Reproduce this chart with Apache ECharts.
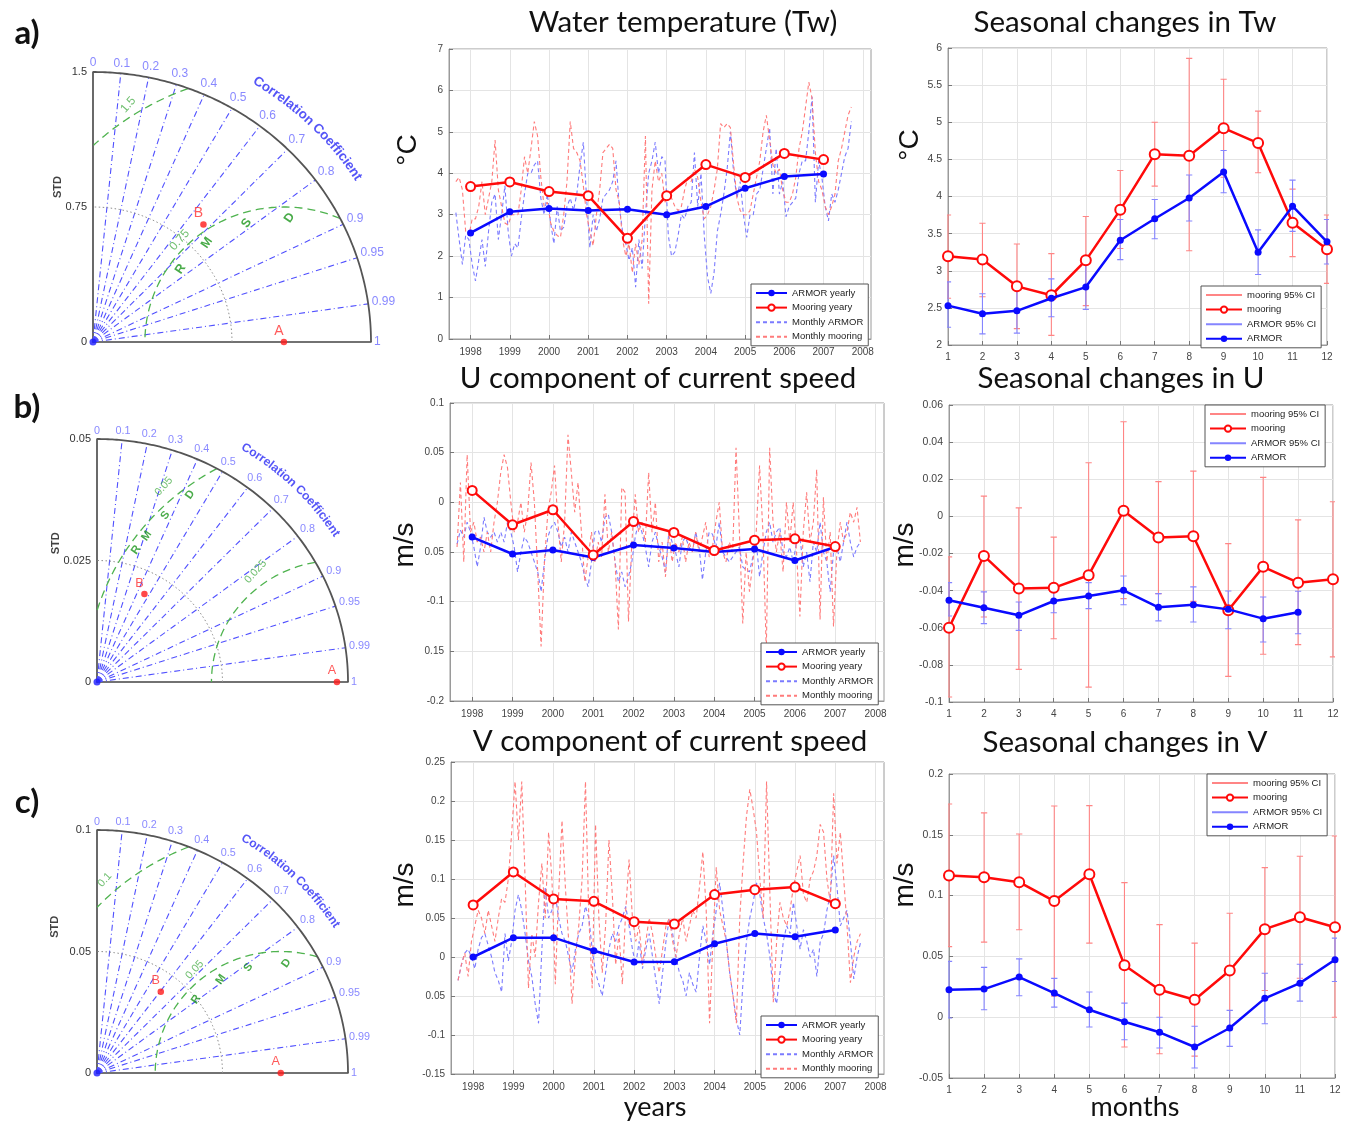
<!DOCTYPE html>
<html><head><meta charset="utf-8">
<script src="https://cdn.jsdelivr.net/npm/echarts@6/dist/echarts.min.js"></script>
<style>html,body{margin:0;padding:0;background:#fff}#c{width:1349px;height:1122px}</style>
</head><body><div id="c"></div>
<script>
// ================= DATA =================
const years = [1998,1999,2000,2001,2002,2003,2004,2005,2006,2007];
const tickYears = [1998,1999,2000,2001,2002,2003,2004,2005,2006,2007,2008];
const months = [1,2,3,4,5,6,7,8,9,10,11,12];
const monthlyStart = 1997.625; // first monthly sample (Aug 1997)

const armorYearlyTw   = [2.56,3.07,3.15,3.10,3.13,3.00,3.20,3.64,3.92,3.98];
const mooringYearlyTw = [3.68,3.79,3.56,3.46,2.43,3.46,4.21,3.90,4.48,4.33];
const armorYearlyU    = [-0.035,-0.052,-0.048,-0.0555,-0.043,-0.046,-0.050,-0.047,-0.0585,-0.045];
const mooringYearlyU  = [0.012,-0.0226,-0.0075,-0.053,-0.0193,-0.0303,-0.0485,-0.0381,-0.0367,-0.0445];
const armorYearlyV    = [0.0,0.0248,0.0248,0.008,-0.0064,-0.006,0.017,0.030,0.026,0.0346];
const mooringYearlyV  = [0.0667,0.109,0.0744,0.0714,0.0453,0.0423,0.080,0.0863,0.0897,0.0684];

const armorMonthlyTw = [3.05,2.4,1.8,2.5,2.4,1.8,1.4,1.9,2.4,1.75,
 2.6,3.3,3.5,2.4,3.0,3.7,2.6,2.0,2.3,2.2,
 2.9,3.5,4.0,4.0,4.2,4.3,3.4,3.0,3.5,2.8,
 2.3,3.2,2.6,2.7,3.2,3.4,3.1,3.5,4.2,4.75,
 3.4,2.2,3.0,2.6,2.9,3.4,3.5,3.6,3.8,4.3,
 3.2,2.6,2.3,1.9,2.2,1.25,2.4,1.7,3.0,4.0,
 4.3,4.75,4.0,4.4,4.3,2.5,2.0,2.1,2.5,3.0,
 2.9,3.2,3.3,4.5,3.2,4.0,2.5,1.5,1.1,1.6,
 2.6,3.0,3.5,4.1,5.0,4.0,3.4,3.8,3.0,2.45,
 3.0,3.0,3.5,3.6,4.1,4.6,5.1,3.5,4.6,3.5,
 3.8,2.95,3.2,3.3,3.4,4.0,4.3,4.3,5.0,5.85,
 3.3,4.3,3.9,3.2,2.85,3.5,3.3,3.6,4.0,4.4,
 4.6,5.25];
const mooringMonthlyTw = [3.8,3.9,3.6,2.6,2.5,2.9,2.9,3.2,3.8,3.0,
 3.4,3.8,4.8,3.6,3.2,2.8,2.75,3.0,3.0,3.0,
 3.6,4.4,4.0,4.6,5.25,4.9,3.9,3.2,3.3,2.8,
 2.6,2.5,2.45,3.0,3.8,5.25,4.6,4.5,4.3,3.7,
 3.0,2.6,2.25,3.0,3.6,4.5,4.6,4.7,4.6,3.6,
 3.3,2.4,2.0,2.3,1.6,2.3,1.8,2.4,4.9,0.85,
 3.6,4.3,3.8,4.0,3.3,3.5,3.4,3.2,3.1,3.2,
 3.6,3.9,3.8,4.1,3.9,3.3,2.9,3.0,3.2,3.6,
 4.1,5.2,5.1,5.2,5.1,4.2,3.4,3.1,3.0,3.0,
 3.1,3.5,3.9,4.3,5.0,5.4,4.8,4.2,4.0,4.1,
 3.6,3.3,3.3,3.5,3.9,4.6,5.0,5.6,6.2,5.8,
 4.5,3.8,3.6,3.2,3.0,3.2,3.5,4.3,4.6,5.0,
 5.4,5.6];
const armorMonthlyU = [-0.042,-0.028,-0.035,-0.02,-0.03,-0.045,-0.065,-0.045,-0.015,-0.03,
 -0.035,-0.03,-0.04,-0.03,-0.04,-0.02,-0.03,-0.045,-0.07,-0.05,
 -0.035,-0.04,-0.05,-0.06,-0.07,-0.09,-0.06,-0.035,-0.025,-0.02,
 -0.03,-0.045,-0.035,-0.05,-0.03,-0.04,-0.05,-0.06,-0.075,-0.085,
 -0.06,-0.03,-0.028,-0.04,-0.015,-0.012,-0.03,-0.06,-0.08,-0.07,
 -0.085,-0.075,-0.06,-0.035,-0.02,-0.03,-0.045,-0.065,-0.04,-0.03,
 -0.045,-0.055,-0.07,-0.03,-0.04,-0.05,-0.065,-0.04,-0.035,-0.045,
 -0.05,-0.03,-0.045,-0.078,-0.05,-0.03,-0.032,-0.045,-0.02,-0.05,
 -0.055,-0.06,-0.055,-0.05,-0.045,-0.065,-0.068,-0.07,-0.055,-0.04,
 -0.075,-0.05,-0.03,-0.02,-0.04,-0.03,-0.025,-0.05,-0.055,-0.045,
 -0.06,-0.04,-0.035,-0.065,-0.05,-0.08,-0.04,-0.05,-0.02,-0.05,
 -0.06,-0.09,-0.05,-0.045,-0.06,-0.04,-0.02,-0.04,-0.055,-0.045,
 -0.04];
const mooringMonthlyU = [-0.045,0.02,-0.06,0.048,-0.03,-0.02,-0.04,-0.035,-0.05,-0.03,
 -0.05,-0.02,0.0,0.03,0.048,0.035,0.0,-0.03,-0.02,0.0,
 -0.03,-0.01,0.04,0.0,-0.07,-0.145,-0.06,-0.01,0.01,0.037,
 -0.02,-0.06,-0.02,0.068,0.03,-0.01,0.02,-0.03,-0.08,-0.055,
 -0.03,-0.06,-0.04,-0.055,0.008,-0.05,-0.03,-0.06,-0.128,0.015,
 0.01,-0.12,-0.04,0.008,-0.03,-0.02,-0.04,0.03,-0.03,0.0,
 -0.06,-0.04,-0.075,-0.03,-0.06,-0.04,-0.05,-0.035,-0.06,-0.04,
 -0.05,-0.03,-0.05,-0.035,-0.02,-0.055,-0.045,-0.02,0.0,-0.05,
 -0.06,-0.04,-0.05,0.055,-0.03,-0.122,-0.05,-0.09,-0.06,-0.03,
 0.037,-0.03,-0.15,0.055,-0.02,-0.05,-0.03,-0.07,0.0,-0.04,
 0.0,-0.05,-0.115,-0.03,0.01,-0.04,-0.02,0.033,-0.118,0.005,
 -0.06,-0.03,-0.125,-0.05,-0.02,-0.04,-0.03,-0.01,-0.02,-0.005,
 -0.04];
const armorMonthlyV = [-0.03,-0.01,0.005,0.01,0.0,-0.015,0.01,0.025,0.03,0.015,
 0.0,-0.02,-0.03,-0.045,0.03,-0.005,0.02,0.06,0.08,0.06,
 0.03,-0.005,-0.025,-0.06,-0.085,0.01,0.09,0.05,0.06,0.08,
 0.05,0.03,0.02,0.0,-0.02,0.01,0.03,0.04,0.065,0.05,
 0.01,-0.02,-0.035,-0.05,-0.02,0.01,0.03,0.02,0.04,0.05,
 0.065,0.04,0.01,-0.01,0.02,-0.015,0.01,0.03,0.0,-0.03,
 -0.06,-0.02,0.02,0.05,0.03,0.0,-0.02,-0.03,-0.05,-0.02,
 -0.035,-0.045,0.0,0.04,0.02,-0.01,0.03,0.06,0.095,0.06,
 0.02,-0.02,-0.05,-0.08,-0.1,-0.03,0.02,0.05,0.07,0.095,
 0.08,0.05,0.03,0.0,-0.045,-0.06,-0.02,0.02,0.04,0.03,
 0.07,0.04,0.01,0.035,0.02,0.0,0.01,-0.025,0.02,0.03,
 0.06,0.08,0.13,0.09,0.04,0.05,0.06,0.02,-0.028,0.0,
 0.018];
const mooringMonthlyV = [-0.03,-0.01,0.005,-0.025,0.02,0.04,0.06,0.05,0.03,0.06,
 0.04,0.02,0.05,0.075,0.07,0.1,0.16,0.225,0.15,0.225,
 0.1,-0.04,0.03,0.0,0.07,0.12,0.05,0.16,0.1,-0.035,
 0.08,0.175,0.09,0.02,-0.06,0.0,0.04,0.1,0.225,0.05,
 -0.04,0.17,0.05,-0.02,0.04,0.15,0.08,-0.01,0.03,-0.035,
 0.06,0.125,0.05,0.02,0.04,-0.01,0.02,0.05,0.03,0.0,
 -0.02,0.01,0.04,0.05,0.02,0.0,0.03,0.05,0.02,0.04,
 0.06,0.05,0.09,0.135,0.06,-0.085,0.02,0.115,0.06,0.04,
 0.02,-0.02,-0.05,-0.085,0.05,0.12,0.18,0.215,0.19,0.16,
 0.1,0.05,0.225,0.08,-0.058,0.02,0.07,0.05,0.04,0.06,
 0.09,0.11,0.13,0.08,0.07,0.1,0.11,0.13,0.17,0.16,
 0.1,0.07,0.21,0.12,0.16,0.1,0.04,-0.033,0.0,0.02,
 0.03];

// seasonal cycles (mean and 95% CI bounds)
const mooringSeasTw   = [3.195,3.15,2.79,2.67,3.14,3.82,4.57,4.55,4.92,4.72,3.645,3.29];
const mooringSeasTwLo = [2.63,2.65,2.22,2.13,2.53,3.30,4.14,3.27,4.26,4.32,3.19,2.83];
const mooringSeasTwHi = [3.75,3.64,3.36,3.23,3.73,4.35,5.00,5.86,5.58,5.15,4.10,3.75];
const armorSeasTw     = [2.53,2.42,2.46,2.63,2.78,3.41,3.70,3.98,4.33,3.25,3.87,3.39];
const armorSeasTwLo   = [2.24,2.15,2.16,2.38,2.48,3.15,3.43,3.67,4.05,2.95,3.53,3.09];
const armorSeasTwHi   = [2.85,2.69,2.76,2.89,3.08,3.69,3.96,4.29,4.62,3.55,4.22,3.69];

const mooringSeasU   = [-0.060,-0.0213,-0.0389,-0.0385,-0.0317,0.003,-0.0114,-0.0107,-0.0506,-0.0272,-0.0357,-0.0339];
const mooringSeasULo = [-0.0973,-0.0542,-0.0824,-0.0659,-0.092,-0.0443,-0.0416,-0.0458,-0.0862,-0.0743,-0.0691,-0.0757];
const mooringSeasUHi = [-0.0218,0.0109,0.0046,-0.0112,0.0289,0.051,0.0187,0.0244,-0.0147,0.021,-0.0019,0.0079];
const armorSeasU     = [-0.0452,-0.0492,-0.0533,-0.0456,-0.0429,-0.0398,-0.049,-0.0476,-0.0501,-0.0551,-0.0517,null];
const armorSeasULo   = [-0.0537,-0.0578,-0.0614,-0.0519,-0.0497,-0.0476,-0.0563,-0.0569,-0.0605,-0.0677,-0.0632,null];
const armorSeasUHi   = [-0.0357,-0.0407,-0.0461,-0.0389,-0.0357,-0.0321,-0.0416,-0.038,-0.0402,-0.0434,-0.0403,null];

const mooringSeasV   = [0.1165,0.115,0.111,0.0955,0.1176,0.0428,0.0226,0.0143,0.0384,0.0724,0.0822,0.074];
const mooringSeasVLo = [0.058,0.0617,0.0719,0.0173,0.0609,-0.0245,-0.030,-0.032,-0.009,0.022,0.032,0.0];
const mooringSeasVHi = [0.1753,0.168,0.1507,0.1737,0.174,0.1107,0.0761,0.0609,0.0855,0.123,0.1323,0.149];
const armorSeasV     = [0.0226,0.0231,0.033,0.0198,0.0061,-0.0037,-0.0124,-0.0245,-0.0089,0.0155,0.028,0.0472];
const armorSeasVLo   = [-0.0007,0.0061,0.0176,0.0083,-0.0081,-0.0185,-0.0253,-0.0418,-0.024,-0.0054,0.0132,0.0294];
const armorSeasVHi   = [0.0459,0.041,0.048,0.0319,0.0207,0.0116,0.0,-0.0075,0.0056,0.0362,0.0436,0.065];

// tick labels (as printed in the figure)
const twTickLabels     = ['0','1','2','3','4','5','6','7'];
const uTickLabels      = ['-0.2','0.15','-0.1','0.05','0','0.05','0.1'];
const vTickLabels      = ['-0.15','-0.1','0.05','0','0.05','0.1','0.15','0.2','0.25'];
const twSeasTickLabels = ['2','2.5','3','3.5','4','4.5','5','5.5','6'];
const uSeasTickLabels  = ['-0.1','-0.08','-0.06','-0.04','-0.02','0','0.02','0.04','0.06'];
const vSeasTickLabels  = ['-0.05','0','0.05','0.1','0.15','0.2'];

// Taylor diagrams
const taylorMax       = [1.5, 0.05, 0.1];
const taylorRefStd    = [1.03, 0.0478, 0.0732];   // point A
const taylorModelStd  = [0.884, 0.0204, 0.0420];  // point B
const taylorModelCorr = [0.674, 0.463, 0.605];
const taylorRmsArcs   = [[0.75, 1.5], [0.025, 0.05], [0.05, 0.1]];
const taylorStdTicks  = [['0','0.75','1.5'], ['0','0.025','0.05'], ['0','0.05','0.1']];
const corrTicks       = [0,0.1,0.2,0.3,0.4,0.5,0.6,0.7,0.8,0.9,0.95,0.99,1];
const corrTickLabels  = ['0','0.1','0.2','0.3','0.4','0.5','0.6','0.7','0.8','0.9','0.95','0.99','1'];
const rmsdLetters     = ['R','M','S','D'];
const rmsdLetterRadius = [0.69, 0.0484, 0.0453];
const rmsdLetterAngles = [[144,127,107,87.5],[145.8,141.6,134.9,127.2],[138.1,121.7,106.5,87.2]];
const rmsArcLabels = [[['0.75',0.798,134.8],['1.5',1.563,122.5]],
                      [['0.05',0.053,130.6],['0.025',0.0279,125.5]],
                      [['0.05',0.0546,128.9],['0.1',0.106,131.4]]];

const titles = ['Water temperature (Tw)','Seasonal changes in Tw','U component of current speed',
                'Seasonal changes in U','V component of current speed','Seasonal changes in V'];
const panelLetters = ['a)','b)','c)'];

// ================= LAYOUT =================
const L = {
  taylor: [{left:93,top:72,width:278,height:270},{left:97,top:439,width:251,height:243},{left:97,top:830,width:251,height:243}],
  ts:     [{left:449,top:49,width:422,height:290},{left:450,top:403,width:434,height:298},{left:451,top:762,width:433,height:312}],
  seas:   [{left:948,top:48,width:379,height:297},{left:949,top:405,width:384,height:297},{left:949,top:774,width:386,height:304}],
  tsLegend:   [[751,284],[761,643],[761,1016]],
  seasLegend: [[1201,286],[1205,405],[1207,774]],
  titlePos: [[683,22],[1125,22],[658,378],[1121,378],[670,741],[1125,742]],
  letterPos: [[27,33],[27,407],[27,802]],
  stdLabelOffset: [-35,-41,-42],
  stdLabelFrac: [0.574,0.571,0.602]
};
const tsXMin = 1997.45, tsXMax = 2008.21;
const rad = Math.PI/180;
const GAP = [null, null];
const FONT = '"Liberation Sans", Arial, sans-serif';

const mctx = document.createElement('canvas').getContext('2d');
function textW(t, font){ mctx.font = font; return mctx.measureText(t).width; }
function lookup(labels, min, step){ return v => { const k = Math.round((v-min)/step); return labels[k] !== undefined ? labels[k] : ''; }; }

const grids = [], xAxes = [], yAxes = [], series = [], legends = [], graphics = [];

// ---------- Taylor diagrams ----------
function rmsArc(A, r, M){
  const pts = [];
  for (let d = 0; d <= 180; d += 0.2) {
    const x = A + r*Math.cos(d*rad), y = r*Math.sin(d*rad);
    const inside = x >= 0 && y >= 0 && (x*x + y*y) <= M*M*1.0005;
    if (inside) pts.push([x, y]);
    else if (pts.length && pts[pts.length-1] !== GAP) pts.push(GAP);
  }
  return pts;
}
function buildTaylor(k){
  const gi = grids.length, g = L.taylor[k], M = taylorMax[k], A = taylorRefStd[k];
  const sc = g.width/278;
  grids.push({left:g.left, top:g.top, width:g.width, height:g.height, outerBoundsMode:'none', containLabel:false});
  xAxes.push({gridIndex:gi, type:'value', min:0, max:M, axisLine:{show:true, onZero:false, lineStyle:{color:'#444', width:1.6}},
    axisTick:{show:false}, axisLabel:{show:false}, splitLine:{show:false}});
  yAxes.push({gridIndex:gi, type:'value', min:0, max:M, interval:M/2, axisLine:{show:true, onZero:false, lineStyle:{color:'#444', width:1.6}},
    axisTick:{show:false}, axisLabel:{show:true, formatter:lookup(taylorStdTicks[k],0,M/2), color:'#333', fontSize:11, margin:6, fontFamily:FONT, showMinLabel:true, showMaxLabel:true},
    splitLine:{show:false}});
  const base = {xAxisIndex:gi, yAxisIndex:gi, silent:true, clip:false, animation:false};
  const line = (data, ls, z) => Object.assign({type:'line', data, symbol:'none', showSymbol:false, connectNulls:false, lineStyle:ls, z:z||2}, base);
  // radial correlation lines
  const radial = [];
  corrTicks.forEach(c => { if (c > 0 && c < 1) radial.push([0,0],[M*c, M*Math.sqrt(1-c*c)], GAP); });
  series.push(line(radial, {color:'#5050ff', width:1.1, type:[6,3,1,3]}));
  // dotted std arc
  const half = []; for (let d = 0; d <= 90; d += 1) half.push([M/2*Math.cos(d*rad), M/2*Math.sin(d*rad)]);
  series.push(line(half, {color:'#8c8c8c', width:1, type:[1.5,2.5]}));
  // RMSD arcs
  taylorRmsArcs[k].forEach(r => series.push(line(rmsArc(A, r, M), {color:'#4fb34f', width:1.3, type:[8,5]})));
  // outer arc
  const outer = []; for (let d = 0; d <= 90; d += 0.5) outer.push([M*Math.cos(d*rad), M*Math.sin(d*rad)]);
  series.push(line(outer, {color:'#555', width:1.8}, 3));

  const lab = (items, z) => Object.assign({type:'scatter', symbolSize:0, data:items, z:z||5}, base);
  // correlation tick labels
  const cf = Math.round(12*sc*10)/10;
  const cfont = cf + 'px ' + FONT;
  series.push(lab(corrTicks.map((c,i) => {
    const th = Math.acos(c), w = textW(corrTickLabels[i], cfont), h = cf;
    const d = 3 + (w/2)*Math.abs(Math.cos(th)) + (h/2)*Math.abs(Math.sin(th));
    return {value:[M*c, M*Math.sin(th)], label:{show:true, position:'inside', formatter:corrTickLabels[i],
      offset:[d*Math.cos(th), -d*Math.sin(th)], color:'#6a6aff', fontSize:cf, fontFamily:FONT}};
  })));
  // "Correlation Coefficient" along the arc
  const ccText = 'Correlation Coefficient';
  const ccf = Math.round(13.5*sc*10)/10;
  const ccfont = 'bold ' + ccf + 'px ' + FONT;
  const chars = ccText.split('');
  const widths = chars.map(ch => textW(ch, ccfont));
  const total = widths.reduce((a,b)=>a+b,0);
  const Rpx = 1.13*(g.width + g.height)/2;
  const start = 45.7*rad + total/Rpx/2;
  let cum = 0;
  const ccItems = [];
  chars.forEach((ch, i) => {
    const th = start - (cum + widths[i]/2)/Rpx; cum += widths[i];
    if (ch === ' ') return;
    ccItems.push({value:[1.13*M*Math.cos(th), 1.13*M*Math.sin(th)], label:{show:true, position:'inside', formatter:ch,
      rotate: th/rad - 90, color:'#2a2af5', fontSize:ccf, fontWeight:'bold', fontFamily:FONT}});
  });
  series.push(lab(ccItems));
  // RMSD labels
  const rItems = rmsdLetters.map((t,i) => {
    const ph = rmsdLetterAngles[k][i]*rad, r = rmsdLetterRadius[k];
    return {value:[A + r*Math.cos(ph), r*Math.sin(ph)], label:{show:true, position:'inside', formatter:t, rotate:55,
      color:'#1c961c', fontSize:12.5*sc, fontWeight:'bold', fontFamily:FONT}};
  });
  rmsArcLabels[k].forEach(([t, r, a]) => {
    rItems.push({value:[A + r*Math.cos(a*rad), r*Math.sin(a*rad)], label:{show:true, position:'inside', formatter:t, rotate:48,
      color:'#4caf4c', fontSize:12*sc, fontFamily:FONT}});
  });
  series.push(lab(rItems));
  // STD axis label (offset is in the rotated label frame)
  series.push(lab([{value:[0, L.stdLabelFrac[k]*M], label:{show:true, position:'inside', formatter:'STD', rotate:90,
    offset:[0, L.stdLabelOffset[k]], color:'#111', fontSize:11, fontWeight:'bold', fontFamily:FONT}}]));
  // origin blob
  series.push(Object.assign({type:'scatter', symbol:'circle', symbolSize:7, itemStyle:{color:'#1a1aff'}, data:[[0,0]], z:4}, base));
  // points A and B
  const Bx = taylorModelStd[k]*taylorModelCorr[k], By = taylorModelStd[k]*Math.sqrt(1 - taylorModelCorr[k]**2);
  series.push(Object.assign({type:'scatter', symbol:'circle', symbolSize:6.5, itemStyle:{color:'#ff1a1a'}, z:6,
    data:[[A,0],[Bx,By]].map((v,i) => ({value:v, label:{show:true, position:'inside', formatter:i ? 'B' : 'A',
      offset:[-5,-11], color:'#ff3030', fontSize:14*sc, fontFamily:FONT}}))}, base));
}

// ---------- time-series panels ----------
const axisCol = '#9a9a9a', gridCol = '#e4e4e4', labCol = '#444';
function tsPanel(p, yMin, yMax, yStep, yLabels, armorY, moorY, armorM, moorM){
  const gi = grids.length, g = L.ts[p];
  grids.push({left:g.left, top:g.top, width:g.width, height:g.height, show:true, borderColor:axisCol, borderWidth:1, outerBoundsMode:'none', containLabel:false});
  xAxes.push({gridIndex:gi, type:'value', min:tsXMin, max:tsXMax,
    axisLine:{show:true, onZero:false, lineStyle:{color:axisCol}},
    axisTick:{show:true, inside:true, length:4, customValues:tickYears, lineStyle:{color:'#777'}},
    axisLabel:{customValues:tickYears, formatter:v => String(Math.round(v)), color:labCol, fontSize:10, margin:8, fontFamily:FONT, hideOverlap:false},
    splitLine:{show:true, lineStyle:{color:gridCol}}});
  yAxes.push({gridIndex:gi, type:'value', min:yMin, max:yMax, interval:yStep,
    axisLine:{show:true, onZero:false, lineStyle:{color:axisCol}},
    axisTick:{show:true, inside:true, length:4, lineStyle:{color:'#777'}},
    axisLabel:{formatter:lookup(yLabels, yMin, yStep), color:labCol, fontSize:10, margin:6, fontFamily:FONT, showMinLabel:true, showMaxLabel:true, hideOverlap:false},
    splitLine:{show:true, lineStyle:{color:gridCol}}});
  const base = {xAxisIndex:gi, yAxisIndex:gi, animation:false, silent:true};
  const mx = i => monthlyStart + i/12;
  series.push(Object.assign({type:'line', name:'Monthly ARMOR', data:armorM.map((v,i)=>[mx(i), v]), symbol:'none',
    lineStyle:{color:'#7b7bff', width:1.1, type:[4,3]}, itemStyle:{color:'#7b7bff'}, z:2}, base));
  series.push(Object.assign({type:'line', name:'Monthly mooring', data:moorM.map((v,i)=>[mx(i), v]), symbol:'none',
    lineStyle:{color:'#ff7b7b', width:1.1, type:[4,3]}, itemStyle:{color:'#ff7b7b'}, z:2}, base));
  series.push(Object.assign({type:'line', name:'ARMOR yearly', data:years.map((y,i)=>[y, armorY[i]]), symbol:'circle', symbolSize:7,
    showSymbol:true, lineStyle:{color:'#0a0aff', width:2.5}, itemStyle:{color:'#0a0aff'}, z:3}, base));
  series.push(Object.assign({type:'line', name:'Mooring yeary', data:years.map((y,i)=>[y, moorY[i]]), symbol:'emptyCircle', symbolSize:9,
    showSymbol:true, lineStyle:{color:'#ff0a0a', width:2.5}, itemStyle:{color:'#ff0a0a', borderColor:'#ff0a0a', borderWidth:1.8}, z:4}, base));
  legends.push(mkLegend(['ARMOR yearly','Mooring yeary','Monthly ARMOR','Monthly mooring'], [false,false,true,true], L.tsLegend[p], 31));
}

function mkLegend(names, lineOnly, pos, iw){
  return {data:names.map((n,i) => lineOnly[i] ? {name:n, itemStyle:{opacity:0}} : {name:n}),
    orient:'vertical', left:pos[0], top:pos[1], itemWidth:iw, itemHeight:8, itemGap:4.6,
    padding:[4,5,4,4], borderColor:'#555', borderWidth:1, backgroundColor:'#fff', selectedMode:false, z:10,
    textStyle:{fontSize:9.5, color:'#222', fontFamily:FONT}};
}

function errData(lo, hi, cap){
  const out = [];
  months.forEach((m,i) => {
    if (lo[i] == null) return;
    out.push([m, lo[i]], [m, hi[i]], GAP, [m-cap, lo[i]], [m+cap, lo[i]], GAP, [m-cap, hi[i]], [m+cap, hi[i]], GAP);
  });
  return out;
}
function seasPanel(p, yMin, yMax, yStep, yLabels, moor, moorLo, moorHi, armor, armorLo, armorHi){
  const gi = grids.length, g = L.seas[p];
  grids.push({left:g.left, top:g.top, width:g.width, height:g.height, show:true, borderColor:axisCol, borderWidth:1, outerBoundsMode:'none', containLabel:false});
  xAxes.push({gridIndex:gi, type:'value', min:1, max:12, interval:1,
    axisLine:{show:true, onZero:false, lineStyle:{color:axisCol}},
    axisTick:{show:true, inside:true, length:4, lineStyle:{color:'#777'}},
    axisLabel:{color:labCol, fontSize:10, margin:7, fontFamily:FONT, showMinLabel:true, showMaxLabel:true, hideOverlap:false},
    splitLine:{show:true, lineStyle:{color:gridCol}}});
  yAxes.push({gridIndex:gi, type:'value', min:yMin, max:yMax, interval:yStep,
    axisLine:{show:true, onZero:false, lineStyle:{color:axisCol}},
    axisTick:{show:true, inside:true, length:4, lineStyle:{color:'#777'}},
    axisLabel:{formatter:lookup(yLabels, yMin, yStep), color:labCol, fontSize:10.5, margin:6, fontFamily:FONT, showMinLabel:true, showMaxLabel:true, hideOverlap:false},
    splitLine:{show:true, lineStyle:{color:gridCol}}});
  const base = {xAxisIndex:gi, yAxisIndex:gi, animation:false, silent:true, connectNulls:false};
  series.push(Object.assign({type:'line', name:'mooring 95% CI', data:errData(moorLo, moorHi, 0.09), symbol:'none',
    lineStyle:{color:'#ff8585', width:1.1}, itemStyle:{color:'#ff8585'}, z:2}, base));
  series.push(Object.assign({type:'line', name:'ARMOR 95% CI', data:errData(armorLo, armorHi, 0.09), symbol:'none',
    lineStyle:{color:'#8585ff', width:1.1}, itemStyle:{color:'#8585ff'}, z:2}, base));
  series.push(Object.assign({type:'line', name:'mooring', data:months.map((m,i)=>[m, moor[i]]), symbol:'emptyCircle', symbolSize:10,
    showSymbol:true, lineStyle:{color:'#ff0a0a', width:2.5}, itemStyle:{color:'#ff0a0a', borderColor:'#ff0a0a', borderWidth:1.8}, z:3}, base));
  series.push(Object.assign({type:'line', name:'ARMOR', data:months.map((m,i)=>[m, armor[i]]), symbol:'circle', symbolSize:7,
    showSymbol:true, lineStyle:{color:'#0a0aff', width:2.5}, itemStyle:{color:'#0a0aff'}, z:4}, base));
  legends.push(mkLegend(['mooring 95% CI','mooring','ARMOR 95% CI','ARMOR'], [true,false,true,false], L.seasLegend[p], 36));
}

buildTaylor(0); buildTaylor(1); buildTaylor(2);
tsPanel(0, 0, 7, 1, twTickLabels, armorYearlyTw, mooringYearlyTw, armorMonthlyTw, mooringMonthlyTw);
tsPanel(1, -0.2, 0.1, 0.05, uTickLabels, armorYearlyU, mooringYearlyU, armorMonthlyU, mooringMonthlyU);
tsPanel(2, -0.15, 0.25, 0.05, vTickLabels, armorYearlyV, mooringYearlyV, armorMonthlyV, mooringMonthlyV);
seasPanel(0, 2, 6, 0.5, twSeasTickLabels, mooringSeasTw, mooringSeasTwLo, mooringSeasTwHi, armorSeasTw, armorSeasTwLo, armorSeasTwHi);
seasPanel(1, -0.1, 0.06, 0.02, uSeasTickLabels, mooringSeasU, mooringSeasULo, mooringSeasUHi, armorSeasU, armorSeasULo, armorSeasUHi);
seasPanel(2, -0.05, 0.2, 0.05, vSeasTickLabels, mooringSeasV, mooringSeasVLo, mooringSeasVHi, armorSeasV, armorSeasVLo, armorSeasVHi);

// ---------- free texts ----------
function txt(t, x, y, font, rot){
  return {type:'text', x, y, rotation:rot||0, silent:true, z:20,
    style:{text:t, font, fill:'#111', textAlign:'center', align:'center', textVerticalAlign:'middle', verticalAlign:'middle'}};
}
titles.forEach((t,i) => graphics.push(txt(t, L.titlePos[i][0], L.titlePos[i][1], '29.5px Lato, "Open Sans", sans-serif')));
panelLetters.forEach((t,i) => graphics.push(txt(t, L.letterPos[i][0], L.letterPos[i][1], 'bold 33px Lato, sans-serif')));
graphics.push(txt('°C', 408, 150, '28px ' + FONT, Math.PI/2));
graphics.push(txt('°C', 910, 145, '28px ' + FONT, Math.PI/2));
graphics.push(txt('m/s', 405, 545, '28px ' + FONT, Math.PI/2));
graphics.push(txt('m/s', 905, 545, '28px ' + FONT, Math.PI/2));
graphics.push(txt('m/s', 405, 885, '28px ' + FONT, Math.PI/2));
graphics.push(txt('m/s', 905, 885, '28px ' + FONT, Math.PI/2));
graphics.push(txt('years', 655, 1107, '27px Lato, sans-serif'));
graphics.push(txt('months', 1135, 1107, '27px Lato, sans-serif'));

const chart = echarts.init(document.getElementById('c'), null, {renderer:'canvas', width:1349, height:1122});
chart.setOption({
  animation:false,
  backgroundColor:'#ffffff',
  textStyle:{fontFamily:FONT},
  tooltip:{show:false},
  grid:grids, xAxis:xAxes, yAxis:yAxes, legend:legends, series:series,
  graphic:{elements:graphics}
});
</script></body></html>
